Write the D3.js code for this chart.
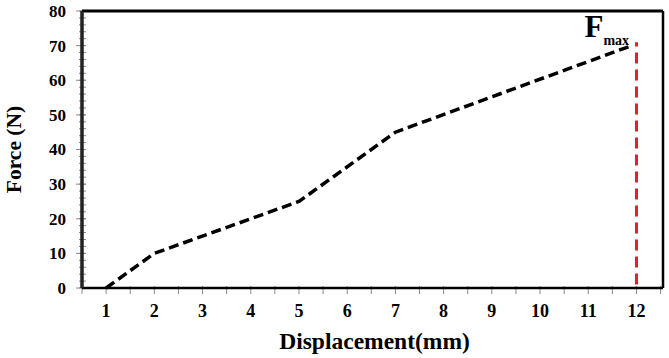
<!DOCTYPE html>
<html>
<head>
<meta charset="utf-8">
<script src="https://cdn.jsdelivr.net/npm/d3@7"></script>
<style>
  body { margin: 0; background: #fff; }
  svg text { font-family: "Liberation Serif", "Times New Roman", serif; font-weight: bold; }
</style>
</head>
<body>
<svg id="chart" width="669" height="358"></svg>
<script>
  // force-displacement curve
  var displacement = [1, 2, 5, 7, 11.9];
  var force = [0, 10, 25, 45, 70];

  // max force marker
  var fmaxX = [12, 12];
  var fmaxY = [1, 71];

  var xTickLabels = [1, 2, 3, 4, 5, 6, 7, 8, 9, 10, 11, 12];
  var yTickLabels = [0, 10, 20, 30, 40, 50, 60, 70, 80];

  var margin = { top: 11, right: 6, bottom: 70, left: 82 };
  var width = 669 - margin.left - margin.right,
    height = 358 - margin.top - margin.bottom;

  var svg = d3.select("#chart");
  var g = svg.append("g").attr("transform", "translate(" + margin.left + "," + margin.top + ")");

  var x = d3.scaleLinear().domain([0.5, 12.55]).range([0, width]);
  var y = d3.scaleLinear().domain([0, 80]).range([height, 0]);

  // minor ticks on y, crossing the axis
  var yMinor = d3.range(0, 81, 2);
  g.selectAll(".ym").data(yMinor).enter().append("line")
    .attr("x1", -3).attr("x2", 4)
    .attr("y1", function (d) { return y(d); })
    .attr("y2", function (d) { return y(d); })
    .attr("stroke", "#888").attr("stroke-width", 1);

  // major ticks on y
  g.selectAll(".yM").data(yTickLabels).enter().append("line")
    .attr("x1", -6).attr("x2", 4)
    .attr("y1", function (d) { return y(d); })
    .attr("y2", function (d) { return y(d); })
    .attr("stroke", "#888").attr("stroke-width", 1);

  g.selectAll(".yl").data(yTickLabels).enter().append("text")
    .attr("x", -16)
    .attr("y", function (d) { return y(d); })
    .attr("dy", "0.35em")
    .attr("text-anchor", "end")
    .attr("font-size", 17)
    .text(function (d) { return d; });

  // x ticks every half unit
  var xMinor = d3.range(0.5, 12.51, 0.5);
  g.selectAll(".xm").data(xMinor).enter().append("line")
    .attr("x1", function (d) { return x(d); })
    .attr("x2", function (d) { return x(d); })
    .attr("y1", height - 2).attr("y2", height + 6)
    .attr("stroke", "#888").attr("stroke-width", 1);

  g.selectAll(".xl").data(xTickLabels).enter().append("text")
    .attr("x", function (d) { return x(d); })
    .attr("y", height + 29)
    .attr("text-anchor", "middle")
    .attr("font-size", 18)
    .text(function (d) { return d; });

  // frame
  g.append("line").attr("x1", 0).attr("x2", width).attr("y1", 0).attr("y2", 0)
    .attr("stroke", "#000").attr("stroke-width", 3);
  g.append("line").attr("x1", width).attr("x2", width).attr("y1", 0).attr("y2", height)
    .attr("stroke", "#000").attr("stroke-width", 2.5);
  g.append("line").attr("x1", 0).attr("x2", width).attr("y1", height).attr("y2", height)
    .attr("stroke", "#000").attr("stroke-width", 2.5);
  g.append("line").attr("x1", 0).attr("x2", 0).attr("y1", 0).attr("y2", height)
    .attr("stroke", "#222").attr("stroke-width", 3.5);

  // curve
  var line = d3.line()
    .x(function (d) { return x(d[0]); })
    .y(function (d) { return y(d[1]); });

  g.append("path")
    .datum(d3.zip(displacement, force))
    .attr("d", line)
    .attr("fill", "none")
    .attr("stroke", "#000")
    .attr("stroke-width", 3.5)
    .attr("stroke-dasharray", "10,5");

  g.append("path")
    .datum(d3.zip(fmaxX, fmaxY))
    .attr("d", line)
    .attr("fill", "none")
    .attr("stroke", "#e0202a")
    .attr("stroke-width", 3)
    .attr("stroke-dasharray", "11,6");

  // Fmax label
  var lab = g.append("text")
    .attr("x", x(12) - 52)
    .attr("y", y(70) - 9)
    .attr("font-size", 31);
  lab.append("tspan").text("F");
  lab.append("tspan").attr("font-size", 14).attr("dy", 8).text("max");

  // axis titles
  svg.append("text")
    .attr("transform", "translate(21," + (margin.top + height / 2) + ") rotate(-90)")
    .attr("text-anchor", "middle")
    .attr("font-size", 21.5)
    .text("Force (N)");

  svg.append("text")
    .attr("x", margin.left + width / 2 + 2)
    .attr("y", 349)
    .attr("text-anchor", "middle")
    .attr("font-size", 23.5)
    .text("Displacement(mm)");
</script>
</body>
</html>
